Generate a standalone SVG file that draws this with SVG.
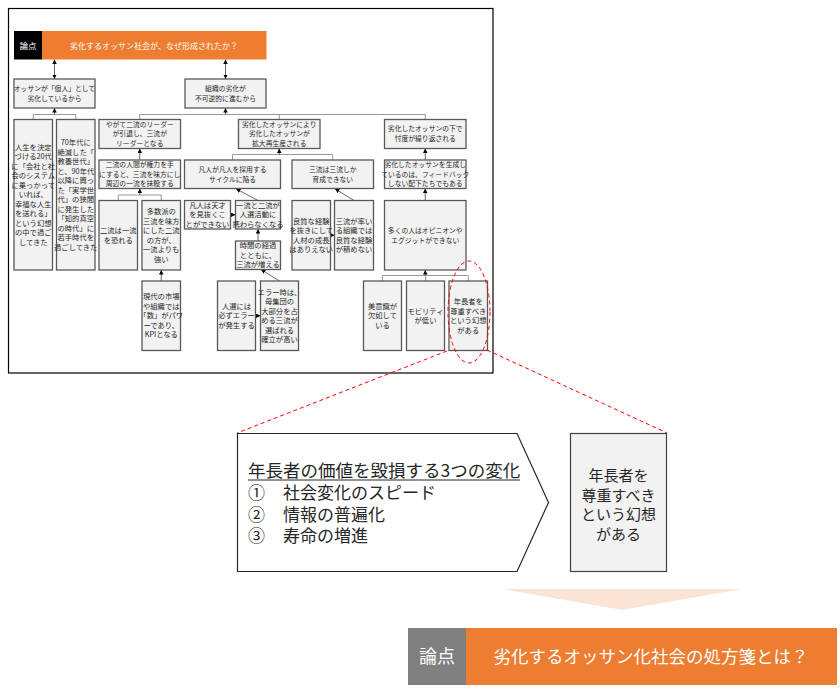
<svg xmlns="http://www.w3.org/2000/svg" width="840" height="690" viewBox="0 0 840 690">
<defs>
<style>
.bx{fill:#f2f2f2;stroke:#595959;stroke-width:1.3}
.t{font-family:"Noto Sans CJK JP","Noto Sans",sans-serif;font-size:6.8px;fill:#262626;text-anchor:middle}
.tl{font-size:7.3px}
.cn{stroke:#404040;stroke-width:0.8;fill:none}
.br{stroke:#8c8c8c;stroke-width:0.9;fill:none}
.big{font-family:"Noto Sans CJK JP","Noto Sans",sans-serif;fill:#262626}
.wt{font-family:"Noto Sans CJK JP","Noto Sans",sans-serif;fill:#ffffff;text-anchor:middle}
.rd{stroke:#ff0000;stroke-width:1;stroke-dasharray:4,3;fill:none}
</style>
<marker id="ah" viewBox="0 0 6 6" refX="6" refY="3" markerWidth="4.5" markerHeight="4.5" markerUnits="userSpaceOnUse" orient="auto-start-reverse">
<path d="M0,0 L6,3 L0,6 z" fill="#000"/>
</marker>
</defs>
<rect width="840" height="690" fill="#ffffff"/>
<rect x="8.5" y="8.5" width="484.5" height="364.5" fill="#ffffff" stroke="#000" stroke-width="1.2"/>

<g id="title-top">
<rect x="14" y="31" width="28" height="28.5" fill="#000000"/>
<rect x="42" y="31" width="224.5" height="28.5" fill="#ed7d31"/>
<text class="wt" x="28" y="48.5" font-size="8.5">論点</text>
<text class="wt" x="154" y="48.5" font-size="8">劣化するオッサン社会が、なぜ形成されたか？</text>
</g>

<g id="connectors">
<line class="cn" x1="54.5" y1="59.5" x2="54.5" y2="79" marker-start="url(#ah)" marker-end="url(#ah)"/>
<line class="cn" x1="225.5" y1="59.5" x2="225.5" y2="79" marker-start="url(#ah)" marker-end="url(#ah)"/>
<path class="br" d="M33.25,119.5 V114.5 H75.75 V119.5"/>
<line class="cn" x1="54.5" y1="114.5" x2="54.5" y2="108" marker-end="url(#ah)"/>
<path class="br" d="M139.75,119.5 V114.5 H425.25 V119.5 M279.25,114.5 V119.5"/>
<line class="cn" x1="225.5" y1="114.5" x2="225.5" y2="108" marker-end="url(#ah)"/>
<line class="cn" x1="139.75" y1="160" x2="139.75" y2="148.5" marker-end="url(#ah)"/>
<path class="br" d="M118.25,200.5 V195 H161.25 V200.5"/>
<line class="cn" x1="139.75" y1="195" x2="139.75" y2="188.5" marker-end="url(#ah)"/>
<line class="cn" x1="161.25" y1="281" x2="161.25" y2="270" marker-end="url(#ah)"/>
<path class="br" d="M232.5,160 V154.5 H332.75 V160"/>
<line class="cn" x1="279.25" y1="154.5" x2="279.25" y2="148.5" marker-end="url(#ah)"/>
<line class="cn" x1="258" y1="200.5" x2="236" y2="188.8" marker-end="url(#ah)"/>
<line class="cn" x1="230.5" y1="214.75" x2="235.5" y2="214.75" marker-end="url(#ah)"/>
<line class="cn" x1="258" y1="241" x2="258" y2="229" marker-end="url(#ah)"/>
<line class="cn" x1="279.5" y1="281" x2="261" y2="269.5" marker-end="url(#ah)"/>
<line class="cn" x1="255.5" y1="315.75" x2="260.5" y2="315.75" marker-end="url(#ah)"/>
<line class="cn" x1="354" y1="200.5" x2="335" y2="188.8" marker-end="url(#ah)"/>
<line class="cn" x1="330.5" y1="235.25" x2="334.5" y2="235.25" marker-end="url(#ah)"/>
<line class="cn" x1="425.25" y1="160" x2="425.25" y2="148.5" marker-end="url(#ah)"/>
<line class="cn" x1="425.25" y1="200.5" x2="425.25" y2="188.5" marker-end="url(#ah)"/>
<path class="br" d="M382.5,281 V275.5 H468.25 V281 M425.5,275.5 V281"/>
<line class="cn" x1="425.25" y1="275.5" x2="425.25" y2="270" marker-end="url(#ah)"/>
</g>

<g id="nA">
<rect class="bx" x="14" y="79" width="81" height="29"/>
<text class="t" x="54.5" y="90.9">オッサンが「個人」として<tspan x="54.5" dy="10">劣化しているから</tspan></text>
</g>
<g id="nB">
<rect class="bx" x="185" y="79" width="81" height="29"/>
<text class="t" x="225.5" y="90.9">組織の劣化が<tspan x="225.5" dy="10">不可逆的に進むから</tspan></text>
</g>
<g id="nA1">
<rect class="bx" x="14" y="119.5" width="38.5" height="150.5"/>
<text class="t tl" x="33.25" y="149.9">人生を決定<tspan x="33.25" dy="9.5">づける20代</tspan><tspan x="33.25" dy="9.5">に「会社と社</tspan><tspan x="33.25" dy="9.5">会のシステム</tspan><tspan x="33.25" dy="9.5">に乗っかって</tspan><tspan x="33.25" dy="9.5">いれば、</tspan><tspan x="33.25" dy="9.5">幸福な人生</tspan><tspan x="33.25" dy="9.5">を送れる」</tspan><tspan x="33.25" dy="9.5">という幻想</tspan><tspan x="33.25" dy="9.5">の中で過ご</tspan><tspan x="33.25" dy="9.5">してきた</tspan></text>
</g>
<g id="nA2">
<rect class="bx" x="56.5" y="119.5" width="38.5" height="150.5"/>
<text class="t tl" x="75.75" y="145.1">70年代に<tspan x="75.75" dy="9.5">絶滅した「</tspan><tspan x="75.75" dy="9.5">教養世代」</tspan><tspan x="75.75" dy="9.5">と、90年代</tspan><tspan x="75.75" dy="9.5">以降に興っ</tspan><tspan x="75.75" dy="9.5">た「実学世</tspan><tspan x="75.75" dy="9.5">代」の狭間</tspan><tspan x="75.75" dy="9.5">に発生した</tspan><tspan x="75.75" dy="9.5">「知的真空</tspan><tspan x="75.75" dy="9.5">の時代」に</tspan><tspan x="75.75" dy="9.5">若手時代を</tspan><tspan x="75.75" dy="9.5">過ごしてきた</tspan></text>
</g>
<g id="nB1">
<rect class="bx" x="99" y="119.5" width="81.5" height="29"/>
<text class="t" x="139.75" y="126.9">やがて二流のリーダー<tspan x="139.75" dy="9.5">が引退し、三流が</tspan><tspan x="139.75" dy="9.5">リーダーとなる</tspan></text>
</g>
<g id="nB2">
<rect class="bx" x="238.5" y="119.5" width="81.5" height="29"/>
<text class="t" x="279.25" y="126.9">劣化したオッサンにより<tspan x="279.25" dy="9.5">劣化したオッサンが</tspan><tspan x="279.25" dy="9.5">拡大再生産される</tspan></text>
</g>
<g id="nB3">
<rect class="bx" x="384.5" y="119.5" width="81.5" height="29"/>
<text class="t" x="425.25" y="131.4">劣化したオッサンの下で<tspan x="425.25" dy="10">忖度が繰り返される</tspan></text>
</g>
<g id="nB1a">
<rect class="bx" x="99" y="160" width="81.5" height="28.5"/>
<text class="t" x="139.75" y="167.15">二流の人間が権力を手<tspan x="139.75" dy="9.5">にすると、三流を味方にし</tspan><tspan x="139.75" dy="9.5">周辺の一流を抹殺する</tspan></text>
</g>
<g id="nB2a">
<rect class="bx" x="184.5" y="160" width="96" height="28.5"/>
<text class="t" x="232.5" y="171.65">凡人が凡人を採用する<tspan x="232.5" dy="10">サイクルに陥る</tspan></text>
</g>
<g id="nB2b">
<rect class="bx" x="292" y="160" width="81.5" height="28.5"/>
<text class="t" x="332.75" y="171.65">三流は三流しか<tspan x="332.75" dy="10">育成できない</tspan></text>
</g>
<g id="nB3a">
<rect class="bx" x="384.5" y="160" width="81.5" height="28.5"/>
<text class="t" x="425.25" y="167.15">劣化したオッサンを生成し<tspan x="425.25" dy="9.5">ているのは、フィードバック</tspan><tspan x="425.25" dy="9.5">しない配下たちでもある</tspan></text>
</g>
<g id="nB1a1">
<rect class="bx" x="99" y="200.5" width="38.5" height="69.5"/>
<text class="t tl" x="118.25" y="232.9">二流は一流<tspan x="118.25" dy="10">を恐れる</tspan></text>
</g>
<g id="nB1a2">
<rect class="bx" x="142" y="200.5" width="38.5" height="69.5"/>
<text class="t tl" x="161.25" y="214.1">多数派の<tspan x="161.25" dy="9.5">三流を味方</tspan><tspan x="161.25" dy="9.5">にした二流</tspan><tspan x="161.25" dy="9.5">の方が、</tspan><tspan x="161.25" dy="9.5">一流よりも</tspan><tspan x="161.25" dy="9.5">強い</tspan></text>
</g>
<g id="nB2a1">
<rect class="bx" x="184.5" y="200.5" width="46" height="28.5"/>
<text class="t tl" x="207.5" y="207.85">凡人は天才<tspan x="207.5" dy="9.5">を見抜くこ</tspan><tspan x="207.5" dy="9.5">とができない</tspan></text>
</g>
<g id="nB2a2">
<rect class="bx" x="235.5" y="200.5" width="45" height="28.5"/>
<text class="t tl" x="258" y="207.85">一流と二流が<tspan x="258" dy="9.5">人選活動に</tspan><tspan x="258" dy="9.5">携わらなくなる</tspan></text>
</g>
<g id="nB2a3">
<rect class="bx" x="235.5" y="241" width="45" height="28.5"/>
<text class="t tl" x="258" y="248.35">時間の経過<tspan x="258" dy="9.5">とともに、</tspan><tspan x="258" dy="9.5">三流が増える</tspan></text>
</g>
<g id="nB2b1">
<rect class="bx" x="292" y="200.5" width="38.5" height="69.5"/>
<text class="t tl" x="311.25" y="223.6">良質な経験<tspan x="311.25" dy="9.5">を抜きにして</tspan><tspan x="311.25" dy="9.5">人材の成長</tspan><tspan x="311.25" dy="9.5">はありえない</tspan></text>
</g>
<g id="nB2b2">
<rect class="bx" x="334.5" y="200.5" width="39" height="69.5"/>
<text class="t tl" x="354" y="223.6">三流が率い<tspan x="354" dy="9.5">る組織では</tspan><tspan x="354" dy="9.5">良質な経験</tspan><tspan x="354" dy="9.5">が積めない</tspan></text>
</g>
<g id="nB3b">
<rect class="bx" x="384.5" y="200.5" width="81.5" height="69.5"/>
<text class="t" x="425.25" y="232.65">多くの人はオピニオンや<tspan x="425.25" dy="10">エグジットができない</tspan></text>
</g>
<g id="nB1a2a">
<rect class="bx" x="142" y="281" width="38.5" height="69.5"/>
<text class="t tl" x="161.25" y="299.35">現代の市場<tspan x="161.25" dy="9.5">や組織では</tspan><tspan x="161.25" dy="9.5">「数」がパワ</tspan><tspan x="161.25" dy="9.5">ーであり、</tspan><tspan x="161.25" dy="9.5">KPIとなる</tspan></text>
</g>
<g id="nB2c1">
<rect class="bx" x="217.5" y="281" width="38" height="69.5"/>
<text class="t tl" x="236.5" y="308.85">人選には<tspan x="236.5" dy="9.5">必ずエラー</tspan><tspan x="236.5" dy="9.5">が発生する</tspan></text>
</g>
<g id="nB2c2">
<rect class="bx" x="260.5" y="281" width="38" height="69.5"/>
<text class="t tl" x="279.5" y="294.6">エラー時は、<tspan x="279.5" dy="9.5">母集団の</tspan><tspan x="279.5" dy="9.5">大部分を占</tspan><tspan x="279.5" dy="9.5">める三流が</tspan><tspan x="279.5" dy="9.5">選ばれる</tspan><tspan x="279.5" dy="9.5">確立が高い</tspan></text>
</g>
<g id="nB3c1">
<rect class="bx" x="363.5" y="281" width="38" height="69.5"/>
<text class="t tl" x="382.5" y="308.85">美意識が<tspan x="382.5" dy="9.5">欠如して</tspan><tspan x="382.5" dy="9.5">いる</tspan></text>
</g>
<g id="nB3c2">
<rect class="bx" x="406.5" y="281" width="38" height="69.5"/>
<text class="t tl" x="425.5" y="313.6">モビリティ<tspan x="425.5" dy="9.5">が低い</tspan></text>
</g>
<g id="nB3c3">
<rect class="bx" x="449" y="281" width="38.5" height="69.5"/>
<text class="t tl" x="468.25" y="304.1">年長者を<tspan x="468.25" dy="9.5">尊重すべき</tspan><tspan x="468.25" dy="9.5">という幻想</tspan><tspan x="468.25" dy="9.5">がある</tspan></text>
</g>

<g id="highlight">
<ellipse class="rd" cx="469" cy="312" rx="21" ry="51"/>
<line class="rd" x1="447" y1="351" x2="237" y2="433"/>
<line class="rd" x1="487" y1="350" x2="667" y2="433"/>
</g>

<g id="changes">
<polygon points="237.5,433.5 517,433.5 548.5,502.5 517,571.5 237.5,571.5" fill="#ffffff" stroke="#262626" stroke-width="1.2"/>
<text class="big" x="248" y="477" font-size="17.5">年長者の価値を毀損する3つの変化</text>
<line x1="248" y1="480" x2="520" y2="480" stroke="#262626" stroke-width="1"/>
<text class="big" x="248" y="499" font-size="17">①<tspan x="283">社会変化のスピード</tspan><tspan x="248" y="520.5">②</tspan><tspan x="283" y="520.5">情報の普遍化</tspan><tspan x="248" y="542">③</tspan><tspan x="283" y="542">寿命の増進</tspan></text>
</g>
<g id="illusion">
<rect x="570.5" y="433.5" width="96" height="138" fill="#f2f2f2" stroke="#404040" stroke-width="1.2"/>
<text class="big" x="618.5" y="481" font-size="15" text-anchor="middle">年長者を<tspan x="618.5" dy="19.5">尊重すべき</tspan><tspan x="618.5" dy="19.5">という幻想</tspan><tspan x="618.5" dy="19.5">がある</tspan></text>
</g>

<polygon id="down-arrow" points="503,589 742,589 622,610" fill="#fbe4d5"/>

<g id="title-bottom">
<rect x="408" y="628" width="58" height="57" fill="#808080"/>
<rect x="466" y="628" width="371" height="57" fill="#ed7d31"/>
<text class="wt" x="437" y="663" font-size="18">論点</text>
<text class="wt" x="651" y="663" font-size="17.5">劣化するオッサン化社会の処方箋とは？</text>
</g>
</svg>
